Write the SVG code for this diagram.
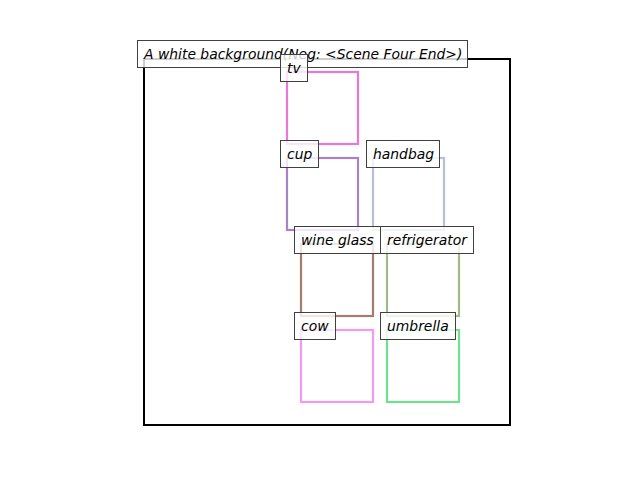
<svg xmlns="http://www.w3.org/2000/svg" width="640" height="480" viewBox="0 0 640 480">
<style>
.bx{fill:none;stroke-width:2.2}
.lb rect{fill:#ffffff;fill-opacity:0.8;stroke:#404040;stroke-opacity:1;stroke-width:1}
.lb text{font-family:"DejaVu Sans",sans-serif;font-style:italic;font-size:13.9px;fill:#000}
</style>
<rect x="0" y="0" width="640" height="480" fill="#ffffff"/>
<g id="frame"><rect x="144" y="59" width="366" height="366" fill="none" stroke="#000" stroke-width="2"/></g>
<g id="boxes">
<rect id="box-tv" class="bx" x="287" y="72" width="71" height="72" stroke="#e878d8"/>
<rect id="box-cup" class="bx" x="287" y="158" width="71" height="72" stroke="#a882c8"/>
<rect id="box-handbag" class="bx" x="373" y="158" width="71" height="72" stroke="#b8bed6"/>
<rect id="box-wineglass" class="bx" x="301" y="244" width="72" height="72" stroke="#a27c6c"/>
<rect id="box-refrigerator" class="bx" x="387" y="244" width="72" height="72" stroke="#a6b888"/>
<rect id="box-cow" class="bx" x="301" y="330" width="72" height="72" stroke="#f09af0"/>
<rect id="box-umbrella" class="bx" x="387" y="330" width="72" height="72" stroke="#72e090"/>
</g>
<g id="title" class="lb"><rect x="137.5" y="40.5" width="330" height="27"/><text x="144" y="59">A white background(Neg: &lt;Scene Four End&gt;)</text></g>
<g id="label-tv" class="lb"><rect x="280.5" y="54.5" width="27" height="27"/><text x="287" y="73">tv</text></g>
<g id="label-cup" class="lb"><rect x="280.5" y="140.5" width="38" height="27"/><text x="287" y="159">cup</text></g>
<g id="label-handbag" class="lb"><rect x="366.5" y="140.5" width="73" height="27"/><text x="373" y="159">handbag</text></g>
<g id="label-wineglass" class="lb"><rect x="294.5" y="226.5" width="86" height="27"/><text x="301" y="245">wine glass</text></g>
<g id="label-refrigerator" class="lb"><rect x="380.5" y="226.5" width="93" height="27"/><text x="387" y="245">refrigerator</text></g>
<g id="label-cow" class="lb"><rect x="294.5" y="312.5" width="41" height="27"/><text x="301" y="331">cow</text></g>
<g id="label-umbrella" class="lb"><rect x="380.5" y="312.5" width="75" height="27"/><text x="387" y="331">umbrella</text></g>
</svg>
